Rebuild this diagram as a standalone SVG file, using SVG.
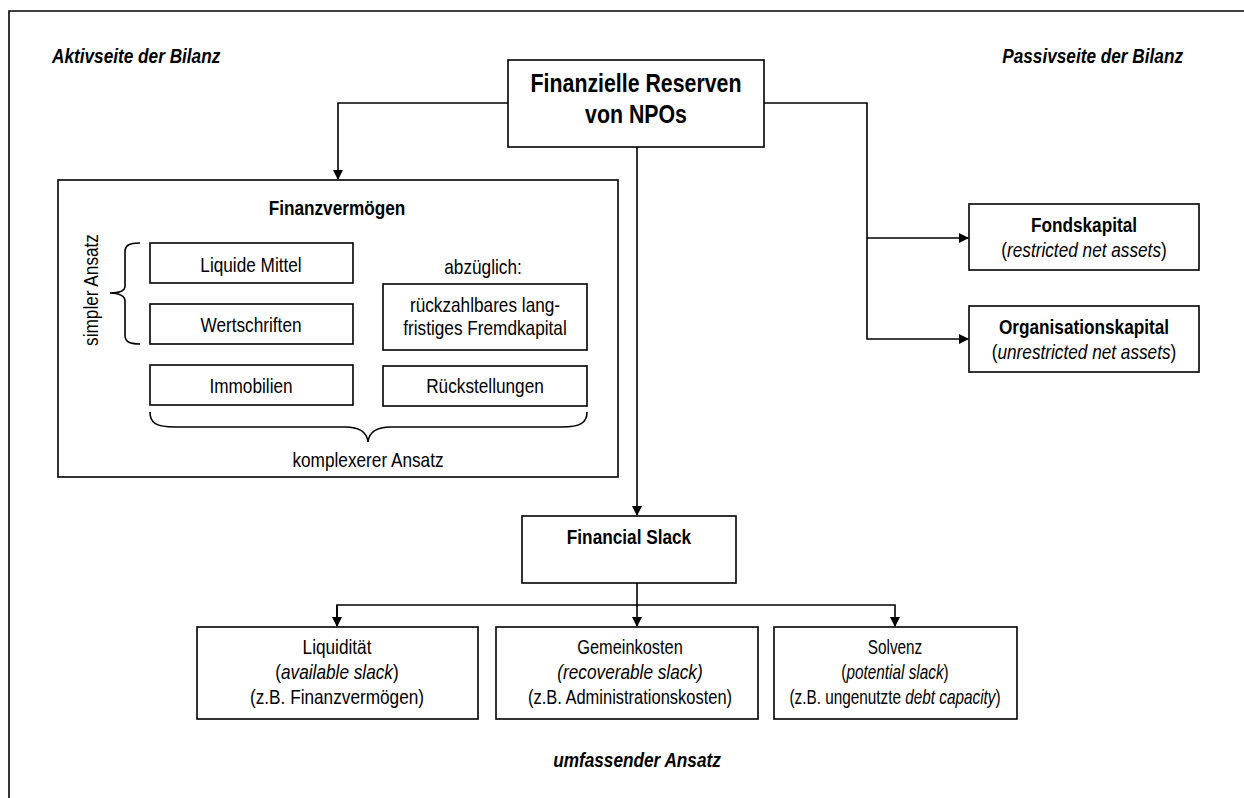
<svg xmlns="http://www.w3.org/2000/svg" width="1244" height="798" viewBox="0 0 1244 798">
<style>
text{font-family:"Liberation Sans",Arial,sans-serif;fill:#000;text-anchor:middle}
.box{fill:#fff;stroke:#000;stroke-width:1.6}
.ln{fill:none;stroke:#000;stroke-width:1.6}
.t{font-size:21px}
.b{font-weight:bold}
.i{font-style:italic}
.h{font-size:21px;font-weight:bold;font-style:italic}
</style>
<defs>
<marker id="ah" markerWidth="10" markerHeight="10" refX="9" refY="5" orient="auto" markerUnits="userSpaceOnUse">
<path d="M0,0 L10,5 L0,10 z" fill="#000"/>
</marker>
</defs>
<rect width="1244" height="798" fill="#fff"/>
<g id="frame">
<path class="ln" d="M9,798 V11 H1244" stroke-width="2"/>
</g>
<g id="labels">
<text class="h" transform="matrix(.82 0 0 1 52 63)" style="text-anchor:start">Aktivseite der Bilanz</text>
<text class="h" transform="matrix(.82 0 0 1 1183 63)" style="text-anchor:end">Passivseite der Bilanz</text>
<text class="h" transform="matrix(.82 0 0 1 637 767)">umfassender Ansatz</text>
</g>
<g id="connectors">
<path class="ln" d="M508,103 H338 V179" marker-end="url(#ah)"/>
<path class="ln" d="M637,147 V515" marker-end="url(#ah)"/>
<path class="ln" d="M764,103 H867 V339 H968" marker-end="url(#ah)"/>
<path class="ln" d="M867,238 H968" marker-end="url(#ah)"/>
<path class="ln" d="M637,583 V626" marker-end="url(#ah)"/>
<path class="ln" d="M337,626 V605 H895 V626" marker-end="url(#ah)"/>
<path class="ln" d="M337,605 V626" marker-end="url(#ah)"/>
</g>
<g id="main">
<rect class="box" x="508" y="60" width="256" height="87"/>
<text class="b" transform="matrix(.82 0 0 1 636 92)" font-size="26">Finanzielle Reserven</text>
<text class="b" transform="matrix(.82 0 0 1 636 123)" font-size="26">von NPOs</text>
</g>
<g id="finanzvermoegen">
<rect class="box" x="58" y="180" width="560" height="297"/>
<text class="t b" transform="matrix(.82 0 0 1 337 215)">Finanzvermögen</text>
<text class="t" transform="translate(98,290) rotate(-90) scale(.82,1)">simpler Ansatz</text>
<path class="ln" d="M140,243 C128,243 125,246 125,252 V286 C125,291 119,293 110,293 C119,293 125,296 125,301 V335 C125,341 128,344 140,344"/>
<path class="ln" d="M150,412 C150,423 156,427 175,427 H345 C360,427 367,432 368,442 C369,432 376,427 391,427 H562 C580,427 587,423 587,412"/>
<text class="t" transform="matrix(.82 0 0 1 368 467)">komplexerer Ansatz</text>
<text class="t" transform="matrix(.82 0 0 1 483 274)">abzüglich:</text>
</g>
<g id="liquide">
<rect class="box" x="150" y="243" width="203" height="40"/>
<text class="t" transform="matrix(.82 0 0 1 251 272)">Liquide Mittel</text>
</g>
<g id="wertschriften">
<rect class="box" x="150" y="304" width="203" height="40"/>
<text class="t" transform="matrix(.82 0 0 1 251 332)">Wertschriften</text>
</g>
<g id="immobilien">
<rect class="box" x="150" y="365" width="203" height="40"/>
<text class="t" transform="matrix(.82 0 0 1 251 393)">Immobilien</text>
</g>
<g id="fremdkapital">
<rect class="box" x="383" y="284" width="204" height="66"/>
<text class="t" transform="matrix(.82 0 0 1 485 312)">rückzahlbares lang-</text>
<text class="t" transform="matrix(.82 0 0 1 485 335)">fristiges Fremdkapital</text>
</g>
<g id="rueckstellungen">
<rect class="box" x="383" y="366" width="204" height="40"/>
<text class="t" transform="matrix(.82 0 0 1 485 393)">Rückstellungen</text>
</g>
<g id="fondskapital">
<rect class="box" x="969" y="204" width="230" height="66"/>
<text class="t b" transform="matrix(.82 0 0 1 1084 232)">Fondskapital</text>
<text class="t" transform="matrix(.82 0 0 1 1084 257)">(<tspan class="i">restricted net assets</tspan>)</text>
</g>
<g id="organisationskapital">
<rect class="box" x="969" y="306" width="230" height="66"/>
<text class="t b" transform="matrix(.82 0 0 1 1084 334)">Organisationskapital</text>
<text class="t" transform="matrix(.82 0 0 1 1084 359)">(<tspan class="i">unrestricted net assets</tspan>)</text>
</g>
<g id="financialslack">
<rect class="box" x="522" y="516" width="214" height="67"/>
<text class="t b" transform="matrix(.82 0 0 1 629 544)">Financial Slack</text>
</g>
<g id="liquiditaet">
<rect class="box" x="197" y="627" width="281" height="92"/>
<text class="t" transform="matrix(.82 0 0 1 337 654)">Liquidität</text>
<text class="t" transform="matrix(.82 0 0 1 337 679)">(<tspan class="i">available slack</tspan>)</text>
<text class="t" transform="matrix(.82 0 0 1 337 704)">(z.B. Finanzvermögen)</text>
</g>
<g id="gemeinkosten">
<rect class="box" x="496" y="627" width="262" height="92"/>
<text class="t" transform="matrix(.78 0 0 1 630 654)">Gemeinkosten</text>
<text class="t i" transform="matrix(.82 0 0 1 630 679)">(recoverable slack)</text>
<text class="t" transform="matrix(.785 0 0 1 630 704)">(z.B. Administrationskosten)</text>
</g>
<g id="solvenz">
<rect class="box" x="774" y="627" width="243" height="92"/>
<text class="t" transform="matrix(.73 0 0 1 895 654)">Solvenz</text>
<text class="t" transform="matrix(.73 0 0 1 895 679)">(<tspan class="i">potential slack</tspan>)</text>
<text class="t" transform="matrix(.73 0 0 1 895 704)">(z.B. ungenutzte <tspan class="i">debt capacity</tspan>)</text>
</g>
</svg>
